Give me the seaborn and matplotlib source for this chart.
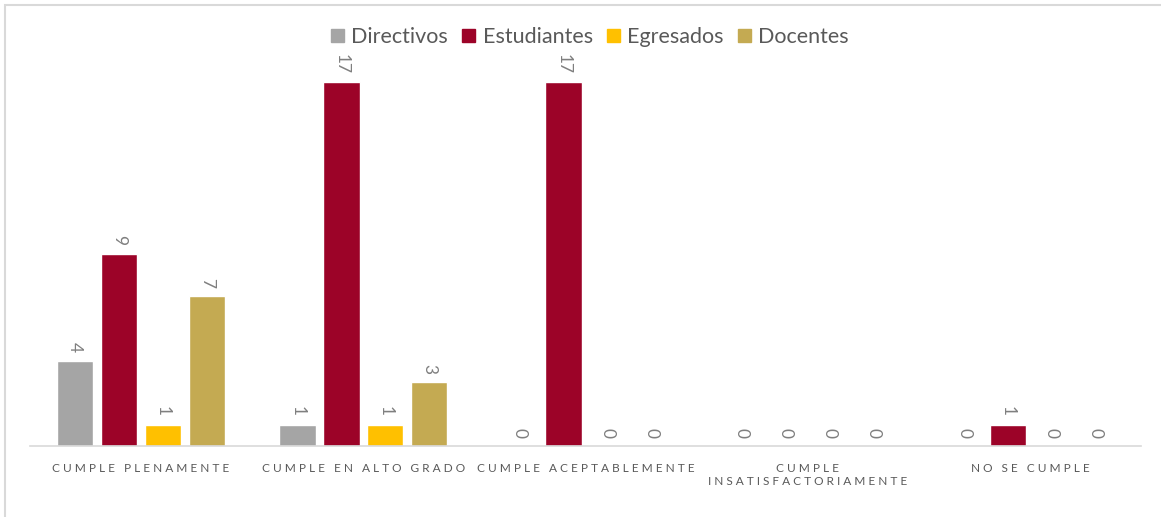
import pandas as pd
import seaborn as sns
from matplotlib import pyplot as plt
from matplotlib.patches import Rectangle

categories = ["CUMPLE PLENAMENTE", "CUMPLE EN ALTO GRADO", "CUMPLE ACEPTABLEMENTE",
              "CUMPLE\nINSATISFACTORIAMENTE", "NO SE CUMPLE"]
groups = ["Directivos", "Estudiantes", "Egresados", "Docentes"]
directivos = [4, 1, 0, 0, 0]
estudiantes = [9, 17, 17, 0, 1]
egresados = [1, 1, 0, 0, 0]
docentes = [7, 3, 0, 0, 0]
colors = ["#A5A5A5", "#9C0328", "#FFC000", "#C4AA52"]

df = pd.DataFrame({
    "categoria": categories * 4,
    "grupo": sum([[g] * len(categories) for g in groups], []),
    "valor": directivos + estudiantes + egresados + docentes,
})


def spaced(text):
    # emulate the wide letter spacing of the axis labels
    return "\n".join(" ".join(line) for line in text.split("\n"))


sns.set_style("white")
plt.rcParams["font.family"] = ["Lato", "DejaVu Sans"]

fig = plt.figure(figsize=(11.61, 5.17), dpi=100)
ax = fig.add_axes([30 / 1161, 0.137, 1111 / 1161, 0.745])

sns.barplot(data=df, x="categoria", y="valor", hue="grupo", hue_order=groups,
            palette=colors, width=0.79, gap=0.17, saturation=1, ax=ax, legend=False)

for cont in ax.containers:
    ax.bar_label(cont, rotation=270, padding=6, fontsize=12.5, color="#7F7F7F")

ax.set_ylim(0, 18)
ax.set_xlim(-0.5, len(categories) - 0.5)
ax.set_xlabel("")
ax.set_ylabel("")
ax.set_yticks([])
ax.set_xticks(range(len(categories)))
ax.set_xticklabels([spaced(c) for c in categories], fontsize=8.6, color="#595959",
                   linespacing=1.2)
ax.tick_params(axis="x", length=0, pad=12)
for side in ["top", "left", "right"]:
    ax.spines[side].set_visible(False)
ax.spines["bottom"].set_color("#D9D9D9")
ax.spines["bottom"].set_linewidth(1.2)

handles = [Rectangle((0, 0), 1, 1, color=c) for c in colors]
fig.legend(handles, groups, loc="upper center", bbox_to_anchor=(0.508, 0.985), ncol=4,
           frameon=False, fontsize=15.5, handlelength=0.6, handleheight=0.6,
           handletextpad=0.35, columnspacing=0.65, labelcolor="#595959")

# chart frame, cropped at the right and bottom edges of the picture
fig.patches.append(Rectangle((5 / 1161, -0.1), 1.2, 1 - 5 / 517 + 0.1,
                             transform=fig.transFigure, fill=False,
                             edgecolor="#D9D9D9", linewidth=1.5))

fig.savefig("out.png", dpi=100, facecolor="white")
